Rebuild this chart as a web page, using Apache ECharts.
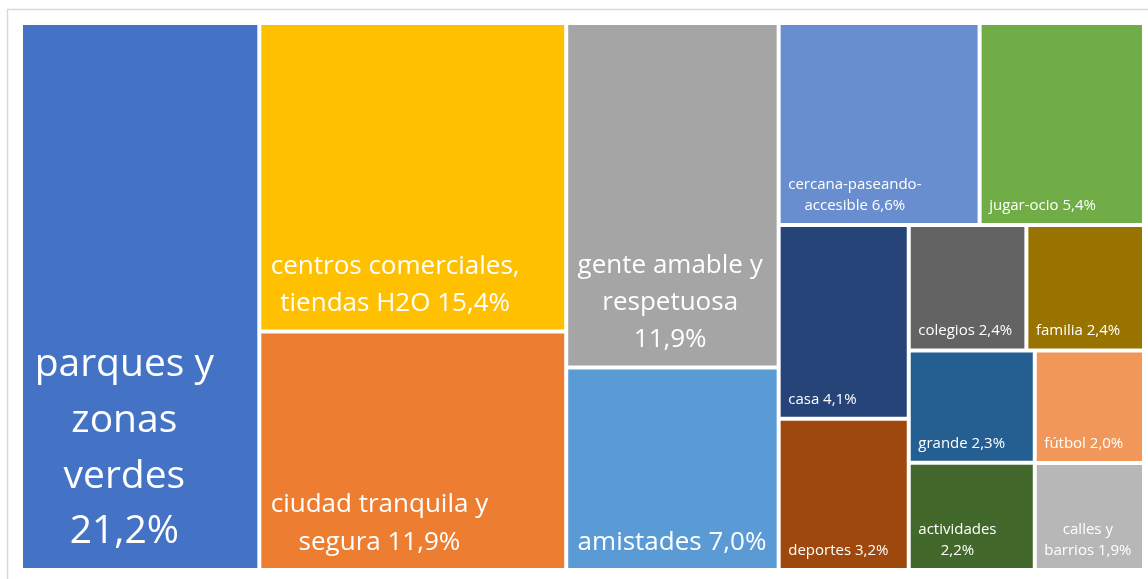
<!DOCTYPE html>
<html>
<head>
<meta charset="utf-8">
<script src="https://cdn.jsdelivr.net/npm/echarts@6/dist/echarts.min.js"></script>
<style>
  html, body { margin: 0; background: #fff; }
  #chart { width: 1148px; height: 579px; }
</style>
</head>
<body>
<div id="chart"></div>
<script>
// categorías, ordenadas de mayor a menor (los "\n" son los cortes de línea de la etiqueta;
// si el nombre acaba en "\n" el porcentaje va en su propia línea)
const categorias = [
  "parques y\nzonas\nverdes\n",
  "centros comerciales,\ntiendas H2O",
  "ciudad tranquila y\nsegura",
  "gente amable y\nrespetuosa\n",
  "amistades",
  "cercana-paseando-\naccesible",
  "jugar-ocio",
  "casa",
  "deportes",
  "colegios",
  "familia",
  "grande",
  "actividades\n",
  "fútbol",
  "calles y\nbarrios"
];
// porcentajes
const valores = [21.2, 15.4, 11.9, 11.9, 7.0, 6.6, 5.4, 4.1, 3.2, 2.4, 2.4, 2.3, 2.2, 2.0, 1.9];

// colores de Office
const colores = [
  "#4472C4", "#FFC000", "#ED7D31", "#A5A5A5", "#5B9BD5", "#698ED0", "#70AD47", "#264478",
  "#9E480E", "#636363", "#997300", "#255E91", "#43682B", "#F1975A", "#B7B7B7"
];

// nº de elementos en cada franja del mapa (como lo reparte Excel)
const franjas = [1, 2, 2, 2, 2, 2, 2, 2];
const FUENTE = '"Open Sans", sans-serif';

function pct(v) {
  return v.toFixed(1).replace(".", ",") + "%";
}

function etiqueta(i) {
  const c = categorias[i];
  return c + (c.endsWith("\n") ? "" : " ") + pct(valores[i]);
}

// reparto en franjas: cada franja va a lo largo del lado corto; la última llena el resto
function calcularCeldas(vals, rect) {
  let r = Object.assign({}, rect);
  let restante = vals.reduce((a, b) => a + b, 0);
  let i = 0;
  const celdas = [];
  franjas.forEach((n, k) => {
    const grupo = vals.slice(i, i + n);
    const suma = grupo.reduce((a, b) => a + b, 0);
    const frac = suma / restante;
    const ultima = k === franjas.length - 1;
    const vertical = ultima ? r.w < r.h : r.w >= r.h;
    if (vertical) {
      const w = r.w * frac;
      let y = r.y;
      grupo.forEach((v) => {
        const h = (r.h * v) / suma;
        celdas.push({ x: r.x, y: y, w: w, h: h });
        y += h;
      });
      r = { x: r.x + w, y: r.y, w: r.w - w, h: r.h };
    } else {
      const h = r.h * frac;
      let x = r.x;
      grupo.forEach((v) => {
        const w = (r.w * v) / suma;
        celdas.push({ x: x, y: r.y, w: w, h: h });
        x += w;
      });
      r = { x: r.x, y: r.y + h, w: r.w, h: r.h - h };
    }
    restante -= suma;
    i += n;
  });
  return celdas;
}

const ctx = document.createElement("canvas").getContext("2d");
function anchoTexto(t, fs) {
  ctx.font = fs + "px " + FUENTE;
  return ctx.measureText(t).width;
}

const chart = echarts.init(document.getElementById("chart"));
let celdas = null;

chart.setOption({
  animation: false,
  graphic: [
    {
      type: "rect",
      shape: { x: 7.5, y: 9.5, width: 1300, height: 700 },
      style: { fill: "none", stroke: "#d9d9d9", lineWidth: 1.5 },
      silent: true
    }
  ],
  series: [
    {
      type: "custom",
      coordinateSystem: "none",
      data: valores,
      renderItem: function (params, api) {
        if (!celdas) {
          celdas = calcularCeldas(valores, {
            x: 21,
            y: 23,
            w: api.getWidth() - 25,
            h: api.getHeight() - 32
          });
        }
        const i = params.dataIndex;
        const c = celdas[i];
        const v = valores[i];
        const fs = v >= 20 ? 39 : v >= 7 ? 26 : 15;
        const lh = fs >= 20 ? fs * 1.43 : 20.5;
        const padX = 5 + fs * 0.17;
        const padB = 6 + fs * 0.4;
        const lineas = etiqueta(i).split("\n");
        const bloque = Math.max.apply(null, lineas.map((t) => anchoTexto(t, fs)));
        const cx = c.x + 2 + padX + bloque / 2;
        const ultimaY = c.y + c.h - 2 - padB - fs * 0.36;
        const textos = lineas.map((t, k) => ({
          type: "text",
          x: cx,
          y: ultimaY - (lineas.length - 1 - k) * lh,
          style: {
            text: t,
            fill: "#ffffff",
            font: fs + "px " + FUENTE,
            align: "center",
            verticalAlign: "middle"
          }
        }));
        return {
          type: "group",
          children: [
            {
              type: "rect",
              shape: { x: c.x + 2, y: c.y + 2, width: c.w - 4, height: c.h - 4 },
              style: { fill: colores[i] }
            }
          ].concat(textos)
        };
      }
    }
  ]
});
</script>
</body>
</html>
